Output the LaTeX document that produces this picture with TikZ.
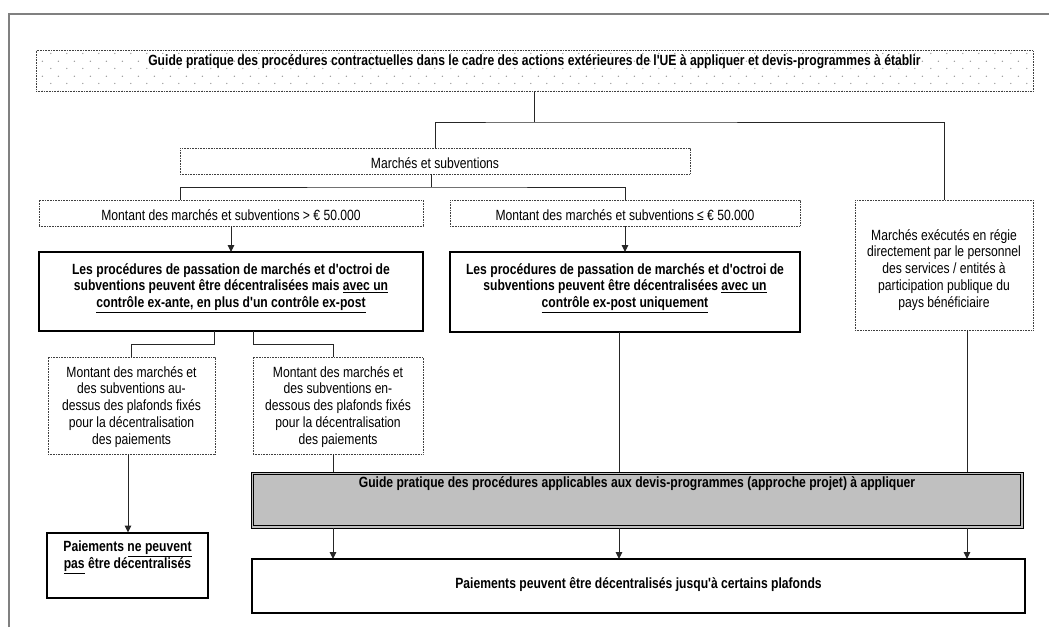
\documentclass[tikz,border=0pt]{standalone}
\usepackage{fontspec}
\setmainfont{Liberation Sans}[FakeStretch=0.82,Ligatures=TeXOff]
\usetikzlibrary{arrows.meta,patterns}
\pgfdeclarepatternformonly{mydots}{\pgfqpoint{0pt}{0pt}}{\pgfqpoint{15.6pt}{15pt}}{\pgfqpoint{15.6pt}{15pt}}{%
  \pgfpathcircle{\pgfqpoint{3.9pt}{3.75pt}}{0.75pt}%
  \pgfpathcircle{\pgfqpoint{11.7pt}{11.25pt}}{0.75pt}%
  \pgfusepath{fill}}
\newcommand{\fsz}{\fontsize{14.8pt}{16.8pt}\selectfont}
\newcommand{\tbx}[4]{\begin{minipage}[c][#2pt][t]{#1pt}\centering\rule{0pt}{#3pt}#4\end{minipage}}
\newcommand{\undl}[1]{\underline{#1}}
\newcommand{\fullline}[1]{\makebox[\linewidth][c]{#1}}
\definecolor{boxgray}{HTML}{C0C0C0}
\begin{document}
\begin{tikzpicture}[x=1pt,y=-1pt,
  every node/.style={inner sep=0pt,outer sep=0pt,font=\fsz,text=black},
  dotbox/.style={draw=black!75,line width=0.7pt,dash pattern=on 0.8pt off 0.8pt,fill=white},
  thickbox/.style={draw=black,line width=2pt,fill=white},
  ln/.style={draw=black!85,line width=1pt},
  arr/.style={-{Triangle[length=7pt,width=6.5pt]}},
  frame/.style={draw=black!50,line width=1.5pt}]
\useasboundingbox (0,0) rectangle (1049,627);
\fill[white] (0,0) rectangle (1049,627);
\draw[frame] (9,627) -- (9,14) -- (1049,14);

\node[dotbox,pattern=mydots,pattern color=black!40] (top) at (534.5,71) {\tbx{997}{41}{15}{\bfseries Guide pratique des procédures contractuelles dans le cadre des actions extérieures de l'UE à appliquer et devis-programmes à établir}};

\node[dotbox] (ms) at (435,161) {\tbx{510}{26}{20}{Marchés et subventions}};
\node[dotbox] (gt) at (231,213) {\tbx{384}{26}{20}{Montant des marchés et subventions > € 50.000}};
\node[dotbox] (le) at (625,213) {\tbx{350}{26}{20}{Montant des marchés et subventions ≤ € 50.000}};
\node[dotbox] (regie) at (944,265) {\tbx{178}{130}{40}{Marchés exécutés en régie\\directement par le personnel\\des services / entités à\\participation publique du\\pays bénéficiaire}};

\node[thickbox] (bp1) at (231,291.5) {\tbx{384}{79}{22}{\bfseries \fullline{Les procédures de passation de marchés et d'octroi de}\\\fullline{subventions peuvent être décentralisées mais \undl{avec un}}\\\fullline{\undl{contrôle ex-ante, en plus d'un contrôle ex-post}}}};
\node[thickbox] (bp2) at (625,292) {\tbx{350}{80}{22}{\bfseries \fullline{Les procédures de passation de marchés et d'octroi de}\\\fullline{subventions peuvent être décentralisées \undl{avec un}}\\\fullline{\undl{contrôle ex-post uniquement}}}};

\node[dotbox] (au) at (131.5,405.5) {\tbx{167}{97}{20}{Montant des marchés et\\des subventions au-\\dessus des plafonds fixés\\pour la décentralisation\\des paiements}};
\node[dotbox] (en) at (338,405.5) {\tbx{170}{97}{20}{Montant des marchés et\\des subventions en-\\dessous des plafonds fixés\\pour la décentralisation\\des paiements}};

\node[thickbox] (pay) at (127.5,565) {\tbx{161}{65}{19}{\bfseries Paiements \undl{ne peuvent}\\\undl{pas} être décentralisés}};

\node[draw=black,line width=0.8pt,fill=boxgray] (gray) at (637,500) {\tbx{772}{56}{15}{\bfseries Guide pratique des procédures applicables aux devis-programmes (approche projet) à appliquer}};
\draw[line width=1.3pt] ([shift={(2.8,2.8)}]gray.north west) rectangle ([shift={(-2.8,-2.8)}]gray.south east);

\node[thickbox] (pp) at (638.5,586) {\tbx{773}{54}{29}{\bfseries Paiements peuvent être décentralisés jusqu'à certains plafonds}};

% connectors
\coordinate (j1) at (534.5,122);
\draw[ln] (top.south) -- (j1);
\draw[ln] (ms.north) |- (j1) -| (regie.north);
\coordinate (j2) at (431,187);
\draw[ln] ([xshift=-4pt]ms.south) -- (j2);
\draw[ln] ([xshift=-51pt]gt.north) |- (j2) -| (le.north);
\draw[ln,arr] (gt.south) -- (bp1.north);
\draw[ln,arr] (le.south) -- (bp2.north);
\draw[ln] ([xshift=-17pt]bp1.south) -- ++(0,13) -| (au.north);
\draw[ln] ([xshift=22pt]bp1.south) -- ++(0,13) -| ([xshift=-5pt]en.north);
\draw[ln,arr] ([xshift=-3.5pt]au.south) -- ([xshift=-3.5pt]au.south |- pay.north);
\coordinate (xa) at ([xshift=-5pt]en.south);
\coordinate (xb) at ([xshift=-6pt]bp2.south);
\coordinate (xc) at ([xshift=23pt]regie.south);
\draw[ln] (xa) -- (xa |- gray.north);
\draw[ln] (xb) -- (xb |- gray.north);
\draw[ln] (xc) -- (xc |- gray.north);
\draw[ln,arr] (xa |- gray.south) -- (xa |- pp.north);
\draw[ln,arr] (xb |- gray.south) -- (xb |- pp.north);
\draw[ln,arr] (xc |- gray.south) -- (xc |- pp.north);
\end{tikzpicture}
\end{document}
